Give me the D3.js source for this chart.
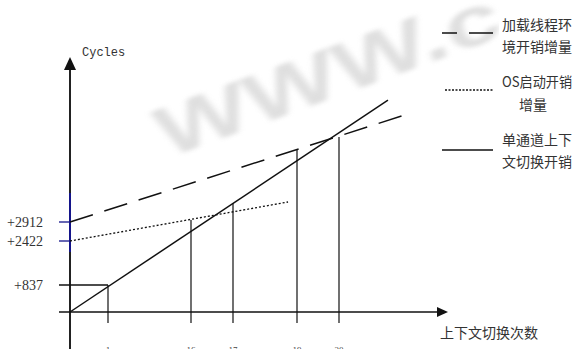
<!DOCTYPE html>
<html><head><meta charset="utf-8">
<script src="https://cdn.jsdelivr.net/npm/d3@7"></script>
<style>body{margin:0;background:#fff}svg{display:block}</style>
</head><body>
<svg id="c" width="574" height="349"></svg>
<script>
// ---- data ----
const xTicks = [1, 16, 17, 19, 20];
const yTicks = [837, 2422, 2912];
const yTickLabels = ["+837", "+2422", "+2912"];
const solidLine = [[0, 0], [21.38, 6050]];        // 单通道上下文切换开销
const dashedLine = [[0, 2912], [21.94, 5690]];    // 加载线程环境开销增量
const dottedLine = [[0, 2422], [18.72, 3427]];    // OS启动开销增量
const dropX = [1, 16, 17, 19, 20];
const dropTop = [837, 2963, 3401, 4765, 5099];
const legendItems = [
  {lines: ["加载线程环", "境开销增量"], style: "dashed"},
  {lines: ["OS启动开销", "增量"], style: "dotted"},
  {lines: ["单通道上下", "文切换开销"], style: "solid"}
];
const xTitle = "上下文切换次数";
const yTitle = "Cycles";

// ---- scales (schematic, piecewise) ----
const x = d3.scaleLinear().domain([0, 1, 16, 17, 19, 20, 22]).range([70, 108, 191, 233, 297, 339, 410]);
const y = d3.scaleLinear().domain([0, 837, 2422, 2912, 6000]).range([312, 285, 241, 222, 102]);

const svg = d3.select("#c");
const defs = svg.append("defs");
defs.append("filter").attr("id", "blur").attr("x", "-20%").attr("y", "-30%").attr("width", "140%").attr("height", "160%")
  .append("feGaussianBlur").attr("stdDeviation", 3.2);

// watermark
svg.append("text")
  .attr("transform", "translate(205,118) rotate(-20) scale(1,0.7)")
  .attr("x", -50).attr("dy", "0.36em")
  .attr("font-family", "Liberation Sans").attr("font-weight", "bold").attr("font-size", 100)
  .attr("fill", "#d2d2d2").attr("filter", "url(#blur)").attr("opacity", 0.7)
  .text("WWW.c");

const ink = "#111";

// axes
svg.append("line").attr("x1", x(0)).attr("x2", x(0)).attr("y1", 349).attr("y2", 68)
  .attr("stroke", "#222").attr("stroke-width", 2);
svg.append("line").attr("x1", x(0)).attr("x2", x(0)).attr("y1", y(2912) - 29).attr("y2", y(2422) + 11)
  .attr("stroke", "#14148a").attr("stroke-width", 2);
svg.append("path").attr("d", `M${x(0) - 6},${70}L${x(0) + 6},${70}L${x(0)},${57}Z`).attr("fill", ink);
svg.append("line").attr("x1", 59).attr("x2", 438).attr("y1", y(0)).attr("y2", y(0))
  .attr("stroke", ink).attr("stroke-width", 1.5);
svg.append("path").attr("d", `M437,${y(0) - 5}L437,${y(0) + 5}L448,${y(0)}Z`).attr("fill", ink);

// y ticks
yTicks.forEach((v, i) => {
  const blue = v !== 837;
  svg.append("line").attr("x1", 59).attr("x2", v === 837 ? x(1) : x(0)).attr("y1", y(v)).attr("y2", y(v))
    .attr("stroke", blue ? "#14148a" : ink).attr("stroke-width", 1.3);
  svg.append("text").attr("x", 43).attr("y", y(v)).attr("dy", "0.35em").attr("text-anchor", "end")
    .attr("font-family", "Liberation Serif").attr("font-size", 14).attr("fill", "#333")
    .text(yTickLabels[i]);
});

// drop lines and x tick labels
dropX.forEach((v, i) => {
  svg.append("line").attr("x1", x(v)).attr("x2", x(v)).attr("y1", y(dropTop[i])).attr("y2", 323)
    .attr("stroke", ink).attr("stroke-width", 1.2);
});
xTicks.forEach(v => {
  svg.append("text").attr("x", x(v)).attr("y", 353).attr("text-anchor", "middle")
    .attr("font-family", "Liberation Serif").attr("font-size", 9).attr("fill", "#444").text(v);
});

// series lines
const ln = d3.line().x(d => x(d[0])).y(d => y(d[1]));
svg.append("path").attr("d", ln(solidLine)).attr("fill", "none").attr("stroke", ink).attr("stroke-width", 1.5);
svg.append("path").attr("d", ln(dashedLine)).attr("fill", "none").attr("stroke", ink).attr("stroke-width", 1.5)
  .attr("stroke-dasharray", "24,12");
svg.append("path").attr("d", ln(dottedLine)).attr("fill", "none").attr("stroke", ink).attr("stroke-width", 1.3)
  .attr("stroke-dasharray", "2,2");

// titles
svg.append("text").attr("x", 82).attr("y", 52).attr("dy", "0.35em")
  .attr("font-family", "Liberation Mono").attr("font-size", 12).attr("fill", "#333").text(yTitle);
svg.append("text").attr("x", 440).attr("y", 333).attr("dy", "0.36em")
  .attr("font-family", "Noto Sans CJK SC").attr("font-size", 14).attr("fill", "#333")
  .attr("textLength", 98).attr("lengthAdjust", "spacingAndGlyphs").text(xTitle);

// legend
svg.append("rect").attr("x", 499).attr("y", 12).attr("width", 75).attr("height", 48).attr("fill", "#fff");
const legY = [33, 90, 150];
const textY = [[25, 47], [82, 105], [140, 162]];
legendItems.forEach((it, i) => {
  const l = svg.append("line").attr("x1", i === 1 ? 445 : 442).attr("x2", 493).attr("y1", legY[i]).attr("y2", legY[i])
    .attr("stroke", ink).attr("stroke-width", 1.5);
  if (it.style === "dashed") l.attr("stroke-dasharray", "15,12,24");
  if (it.style === "dotted") l.attr("stroke-dasharray", "2,1.5").attr("stroke-width", 1.3);
  it.lines.forEach((t, j) => {
    const centered = t.length < 4;
    const tx = svg.append("text").attr("x", centered ? 533 : 502).attr("y", textY[i][j]).attr("dy", "0.36em")
      .attr("text-anchor", centered ? "middle" : "start")
      .attr("font-family", "Noto Sans CJK SC").attr("font-size", 14).attr("fill", "#333").text(t);
    if (!centered) tx.attr("textLength", 70).attr("lengthAdjust", "spacingAndGlyphs");
  });
});
</script>
</body></html>
